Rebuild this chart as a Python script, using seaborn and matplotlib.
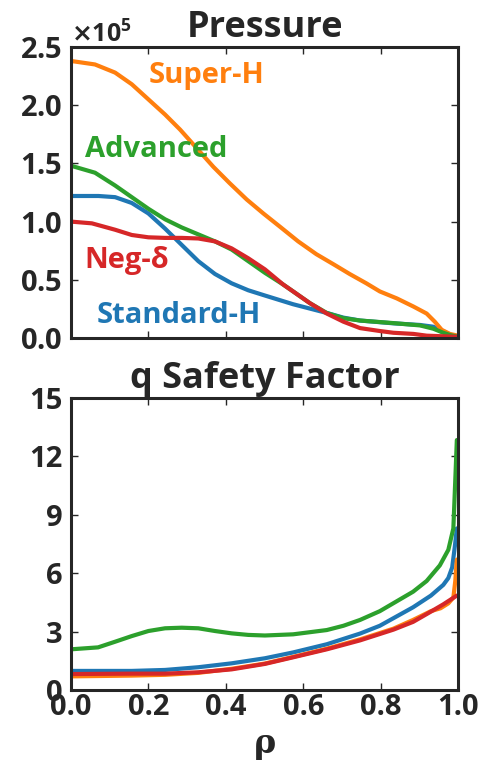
import numpy as np
import pandas as pd
import matplotlib
matplotlib.use("Agg")
import matplotlib.pyplot as plt
from matplotlib.ticker import ScalarFormatter
import seaborn as sns

# ---- pressure profiles (units of 1e5 Pa) vs normalised radius rho ----
rho_p_super = [0.0, 0.062, 0.114, 0.157, 0.2, 0.243, 0.282, 0.325, 0.368, 0.41, 0.454, 0.497,
               0.54, 0.587, 0.634, 0.68, 0.72, 0.763, 0.798, 0.842, 0.885, 0.919, 0.94, 0.958, 0.979, 1.0]
p_super = [2.38, 2.35, 2.28, 2.18, 2.05, 1.92, 1.79, 1.63, 1.47, 1.33, 1.19, 1.07,
           0.956, 0.83, 0.72, 0.63, 0.55, 0.47, 0.40, 0.34, 0.27, 0.21, 0.14, 0.07, 0.035, 0.02]

rho_p_adv = [0.0, 0.062, 0.114, 0.157, 0.2, 0.243, 0.286, 0.329, 0.372, 0.415, 0.458, 0.501,
             0.548, 0.574, 0.617, 0.661, 0.704, 0.747, 0.833, 0.902, 0.936, 0.962, 0.98, 1.0]
p_adv = [1.48, 1.42, 1.31, 1.21, 1.11, 1.02, 0.95, 0.89, 0.83, 0.76, 0.66, 0.56,
         0.46, 0.40, 0.30, 0.215, 0.17, 0.15, 0.128, 0.108, 0.08, 0.045, 0.025, 0.01]

rho_p_std = [0.0, 0.071, 0.114, 0.157, 0.2, 0.243, 0.286, 0.329, 0.372, 0.415, 0.458, 0.501,
             0.574, 0.661, 0.704, 0.747, 0.833, 0.902, 0.936, 0.958, 0.979, 1.0]
p_std = [1.22, 1.22, 1.21, 1.16, 1.07, 0.94, 0.80, 0.66, 0.55, 0.47, 0.41, 0.365,
         0.29, 0.215, 0.175, 0.15, 0.126, 0.112, 0.097, 0.065, 0.03, 0.01]

rho_p_neg = [0.0, 0.054, 0.114, 0.157, 0.2, 0.243, 0.286, 0.329, 0.372, 0.415, 0.458, 0.501,
             0.548, 0.574, 0.617, 0.661, 0.704, 0.747, 0.798, 0.833, 0.885, 0.919, 1.0]
p_neg = [1.0, 0.985, 0.93, 0.885, 0.865, 0.86, 0.86, 0.855, 0.83, 0.77, 0.685, 0.59,
         0.46, 0.40, 0.30, 0.21, 0.14, 0.085, 0.06, 0.045, 0.035, 0.02, 0.01]

P_SCALE = 1e5

# ---- safety factor profiles ----
rho_q_adv = [0.0, 0.07, 0.114, 0.157, 0.2, 0.243, 0.286, 0.329, 0.372, 0.415, 0.458, 0.501,
             0.574, 0.661, 0.704, 0.747, 0.798, 0.884, 0.919, 0.953, 0.975, 0.988, 0.993, 0.997]
q_adv = [2.09, 2.19, 2.48, 2.77, 3.03, 3.17, 3.2, 3.17, 3.03, 2.91, 2.83, 2.8,
         2.86, 3.08, 3.3, 3.6, 4.05, 5.05, 5.6, 6.4, 7.2, 8.3, 10.8, 12.84]

rho_q_std = [0.0, 0.157, 0.243, 0.329, 0.415, 0.501, 0.574, 0.661, 0.747, 0.798, 0.884,
             0.93, 0.962, 0.975, 0.985, 0.992, 0.997]
q_std = [0.98, 0.98, 1.03, 1.17, 1.37, 1.63, 1.93, 2.35, 2.9, 3.3, 4.25,
         4.85, 5.4, 5.75, 6.3, 7.4, 8.3]

rho_q_neg = [0.0, 0.157, 0.243, 0.329, 0.415, 0.501, 0.574, 0.661, 0.747, 0.833, 0.884,
             0.919, 0.962, 0.997]
q_neg = [0.82, 0.84, 0.84, 0.91, 1.06, 1.34, 1.68, 2.09, 2.55, 3.1, 3.5,
         3.9, 4.4, 4.85]

rho_q_super = [0.0, 0.157, 0.243, 0.329, 0.415, 0.501, 0.574, 0.661, 0.747, 0.833, 0.884,
               0.93, 0.955, 0.975, 0.988, 0.993, 0.997]
q_super = [0.70, 0.74, 0.78, 0.88, 1.09, 1.36, 1.70, 2.12, 2.6, 3.15, 3.6,
           4.05, 4.2, 4.45, 4.75, 5.6, 6.7]

cases = ["Standard-H", "Super-H", "Advanced", "Neg-δ"]
colors = {"Standard-H": "#1f77b4", "Super-H": "#ff7f0e",
          "Advanced": "#2ca02c", "Neg-δ": "#d62728"}

pressure = pd.concat([
    pd.DataFrame({"rho": rho_p_std, "p": np.array(p_std) * P_SCALE, "case": "Standard-H"}),
    pd.DataFrame({"rho": rho_p_super, "p": np.array(p_super) * P_SCALE, "case": "Super-H"}),
    pd.DataFrame({"rho": rho_p_adv, "p": np.array(p_adv) * P_SCALE, "case": "Advanced"}),
    pd.DataFrame({"rho": rho_p_neg, "p": np.array(p_neg) * P_SCALE, "case": "Neg-δ"}),
], ignore_index=True)

safety = pd.concat([
    pd.DataFrame({"rho": rho_q_std, "q": q_std, "case": "Standard-H"}),
    pd.DataFrame({"rho": rho_q_super, "q": q_super, "case": "Super-H"}),
    pd.DataFrame({"rho": rho_q_adv, "q": q_adv, "case": "Advanced"}),
    pd.DataFrame({"rho": rho_q_neg, "q": q_neg, "case": "Neg-δ"}),
], ignore_index=True)

FONT = ["Open Sans", "DejaVu Sans"]

sns.set_style("ticks")
plt.rcParams.update({
    "font.family": FONT,
    "font.weight": "bold",
    "axes.linewidth": 2.2,
    "xtick.direction": "in", "ytick.direction": "in",
    "xtick.top": True, "ytick.right": True,
    "xtick.major.size": 5, "ytick.major.size": 5,
    "xtick.major.width": 1.0, "ytick.major.width": 1.0,
    "xtick.labelsize": 21, "ytick.labelsize": 21,
})

fig = plt.figure(figsize=(4.81, 7.61), dpi=100)
ax1 = fig.add_axes([71 / 481, 1 - 338 / 761, 387 / 481, 291 / 761])
ax2 = fig.add_axes([71 / 481, 1 - 690 / 761, 387 / 481, 292 / 761])

# pressure panel
sns.lineplot(data=pressure, x="rho", y="p", hue="case", hue_order=cases,
             palette=colors, linewidth=3, legend=False, sort=False, ax=ax1)
ax1.set_xlim(0, 1)
ax1.set_ylim(0, 2.5e5)
ax1.set_yticks(np.arange(0, 2.51e5, 0.5e5))
fmt = ScalarFormatter(useMathText=True)
fmt.set_powerlimits((0, 0))
ax1.yaxis.set_major_formatter(fmt)
ax1.yaxis.get_offset_text().set_fontsize(18)
ax1.yaxis.get_offset_text().set_fontweight("bold")
ax1.set_xticks(np.arange(0, 1.01, 0.2))
ax1.set_xticklabels([])
ax1.set_xlabel("")
ax1.set_ylabel("")
ax1.set_title("Pressure", fontsize=26, fontweight="bold", pad=7)

label_pos = {"Super-H": (0.351, 2.19), "Advanced": (0.22, 1.555),
             "Neg-δ": (0.144, 0.60), "Standard-H": (0.278, 0.13)}
for name, (x, y) in label_pos.items():
    ax1.text(x, y * P_SCALE, name, color=colors[name], fontsize=21,
             fontweight="bold", ha="center", va="baseline", family=FONT)

# safety factor panel
sns.lineplot(data=safety, x="rho", y="q", hue="case", hue_order=cases,
             palette=colors, linewidth=3, legend=False, sort=False, ax=ax2)
ax2.set_xlim(0, 1)
ax2.set_ylim(0, 15)
ax2.set_yticks([0, 3, 6, 9, 12, 15])
ax2.set_xticks(np.arange(0, 1.01, 0.2))
ax2.set_xticklabels([f"{v:.1f}" for v in np.arange(0, 1.01, 0.2)])
ax2.set_ylabel("")
ax2.set_xlabel("ρ", fontsize=24, fontweight="bold", family=["DejaVu Serif"], labelpad=4)
ax2.set_title("q Safety Factor", fontsize=26, fontweight="bold", pad=7)

for ax in (ax1, ax2):
    ax.tick_params(axis="y", pad=6)
    ax.tick_params(axis="x", pad=2)
    for lbl in ax.get_xticklabels() + ax.get_yticklabels():
        lbl.set_fontweight("bold")

fig.savefig("out.png", dpi=100)
